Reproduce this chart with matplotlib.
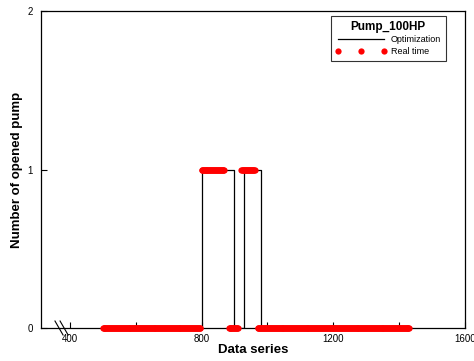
import numpy as np
import matplotlib.pyplot as plt
from matplotlib.ticker import MultipleLocator

plt.rcParams['font.family'] = ['Liberation Sans', 'DejaVu Sans']

# ------------------------------------------------------------
# Data
# ------------------------------------------------------------
# optimization schedule: (start, end, pumps on)
opt_x = [500, 800, 800, 900, 900, 930, 930, 980, 980, 1440]
opt_y = [0, 0, 1, 1, 0, 0, 1, 1, 0, 0]

# real-time readings, as (first index, last index, state) segments
rt_segments = [
    (500, 796, 0),
    (800, 868, 1),
    (883, 911, 0),
    (921, 962, 1),
    (971, 1432, 0),
]
rt_step = 2

rt_x = np.concatenate([np.arange(a, b + 1, rt_step) for a, b, s in rt_segments])
rt_y = np.concatenate([np.full(len(np.arange(a, b + 1, rt_step)), s) for a, b, s in rt_segments])

# ------------------------------------------------------------
# Plot
# ------------------------------------------------------------
fig = plt.figure(figsize=(4.74, 3.61), dpi=100)
ax = fig.add_axes([0.0865, 0.0914, 0.894, 0.878])

ax.plot(opt_x, opt_y, color='black', lw=0.9, label='Optimization', zorder=2)
ax.plot(rt_x, rt_y, 'o', color='red', ms=4.5, mew=0, ls='none',
        label='Real time', clip_on=False, zorder=3)

ax.set_xlim(312, 1600)
ax.set_ylim(0, 2)
ax.xaxis.set_major_locator(MultipleLocator(400))
ax.xaxis.set_minor_locator(MultipleLocator(200))
ax.yaxis.set_major_locator(MultipleLocator(1))
ax.tick_params(which='both', direction='in', labelsize=7, top=False, right=False)
ax.tick_params(which='major', length=4, width=0.8)
ax.tick_params(which='minor', length=4, width=0.8)
ax.tick_params(axis='y', pad=6)
ax.tick_params(axis='x', pad=4)
for sp in ax.spines.values():
    sp.set_linewidth(0.9)

ax.set_xlabel('Data series', fontsize=9.5, fontweight='bold', labelpad=0)
ax.set_ylabel('Number of opened pump', fontsize=9.5, fontweight='bold', labelpad=3)

# axis break marks
for dx in (0.0, 0.012):
    ax.plot([0.033 + dx, 0.052 + dx], [0.022, -0.022], transform=ax.transAxes,
            color='black', lw=0.8, clip_on=False)

leg = ax.legend(title='Pump_100HP', loc='upper right', bbox_to_anchor=(0.966, 0.998),
                fontsize=6.5, numpoints=3, handlelength=5.7, handletextpad=0.5,
                frameon=True, fancybox=False, edgecolor='black',
                borderpad=0.5, labelspacing=0.3)
leg.get_frame().set_linewidth(0.8)
leg.get_title().set_fontweight('bold')
leg.get_title().set_fontsize(8.5)

fig.savefig('out.png', dpi=100)
